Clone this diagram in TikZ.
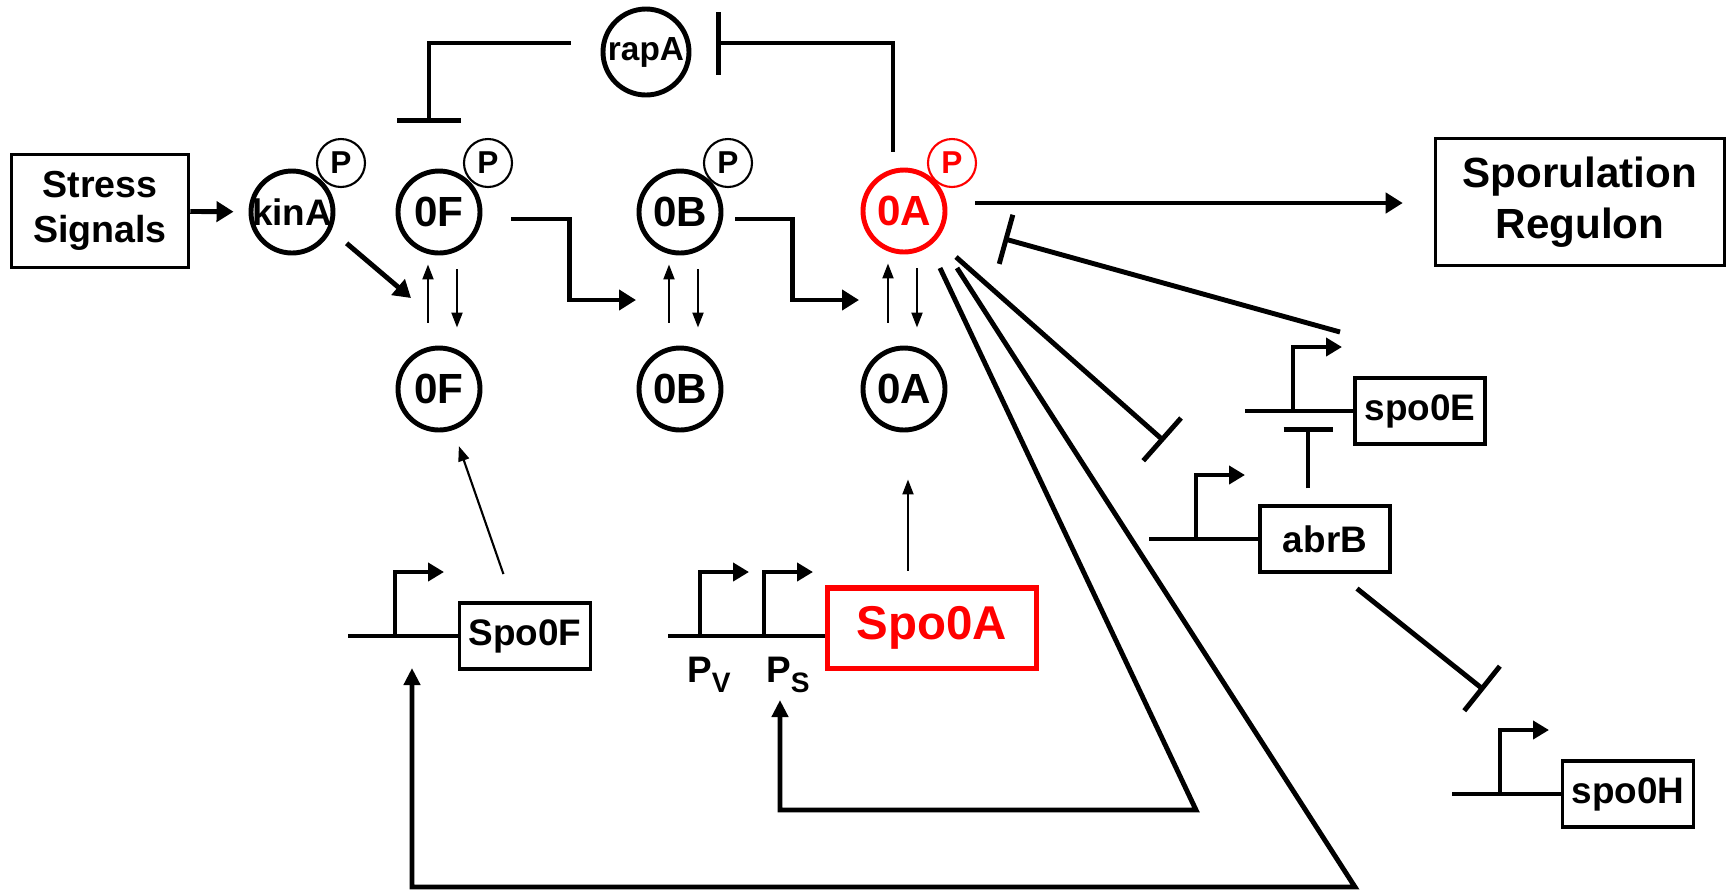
\documentclass[tikz,border=0pt]{standalone}
\usepackage{fontspec}
\setmainfont{Liberation Sans}
\usepackage{xcolor}
\usepackage{tikz}
\usetikzlibrary{arrows.meta,positioning,calc}
\definecolor{spored}{HTML}{FF0000}
\newcommand{\prom}[1]{\draw[prm] #1 |- ++(49,-64);}
\newcommand{\fsz}[1]{\fontsize{#1}{1.2\dimexpr#1pt\relax}\selectfont\bfseries}
\tikzset{
  act/.style={-{Triangle[length=1.7mm,width=2mm]}, line width=1.4pt},
  thn/.style={-{Triangle[length=1.5mm,width=1.1mm]}, line width=0.6pt},
  fb/.style={-{Triangle[length=1.7mm,width=1.6mm]}, line width=1.4pt},
  inh/.style={-{Bar[width=#1]}, line width=1.4pt},
  inh/.default=5.7mm,
  gcir/.style={circle, draw, line width=1.4pt, minimum size=8.2mm, inner sep=0pt, font=\fsz{12}},
  pcir/.style={circle, draw, line width=0.6pt, minimum size=4.8mm, inner sep=0pt, font=\fsz{9}},
  gbox/.style={draw, line width=0.9pt, minimum width=13mm, minimum height=6.6mm, inner sep=0pt, font=\fsz{10.5}},
  sbox/.style={draw, line width=1pt, align=center, inner sep=0pt},
  gl/.style={line width=1.4pt},
  prm/.style={-{Triangle[length=1.6mm,width=1.8mm]}, line width=1.4pt},
}
\begin{document}
\begin{tikzpicture}[x=0.1mm, y=-0.1mm]
  \useasboundingbox (0,0) rectangle (1726,893);
  % signal and output boxes
  \node[sbox, minimum width=17.7mm, minimum height=11.3mm, font=\fsz{10.7}] (stress) at (100,211) {Stress\\Signals};
  \node[sbox, minimum width=28.9mm, minimum height=12.7mm, font=\fsz{12}] (spor) at (1580,202) {Sporulation\\Regulon};
  % phosphorelay
  \node[gcir, font=\fsz{10.5}] (kinA) at (292,212) {\makebox[0pt]{kinA}};
  \node[pcir] (kinAs) at (341,163) {P};
  \node[gcir] (pF) at (439,212) {0F};
  \node[pcir] (pFs) at (488,163) {P};
  \node[gcir] (pB) at (680,212) {0B};
  \node[pcir] (pBs) at (728,163) {P};
  \node[gcir, spored] (pA) at (904,211) {0A};
  \node[pcir, spored] (pAs) at (952,163) {P};
  \node[gcir, minimum size=8.6mm, font=\fsz{9.5}] (rapA) at (646,52) {rapA};
  \node[gcir] (uF) at (439,389) {0F};
  \node[gcir] (uB) at (680,389) {0B};
  \node[gcir] (uA) at (904,389) {0A};
  % genes
  \node[gbox, minimum width=13.1mm] (spoF) at (525,636) {Spo0F};
  \node[gbox, spored, line width=1.7pt, minimum width=20.9mm, minimum height=8.1mm, font=\fsz{13.5}] (spoA) at (932,628) {Spo0A};
  \node[gbox] (spoE) at (1420,411) {spo0E};
  \node[gbox] (abrB) at (1325,539) {abrB};
  \node[gbox, minimum width=13.1mm] (spoH) at (1628,794) {spo0H};
  \node[anchor=base, font=\fsz{10.5}] (pv) at (709,682) {P\raisebox{-1mm}{\fsz{8}V}};
  \node[anchor=base, font=\fsz{10.5}] (ps) at (788,682) {P\raisebox{-1mm}{\fsz{8}S}};
  % free ends
  \coordinate (gF) at (348,636);
  \coordinate (gA) at (668,636);
  \coordinate (gE) at (1245,411);
  \coordinate (gB) at (1149,539);
  \coordinate (gH) at (1452,794);
  \coordinate (kF) at (411,298);
  \coordinate (tB) at (636,300);
  \coordinate (tA) at (859,300);
  \coordinate (rF) at (429,123);
  \coordinate (rA) at (716,43);
  \coordinate (eE) at (1340,332);
  \coordinate (iB) at (1164,441);
  \coordinate (iE) at (1308,427);
  \coordinate (iH) at (1484,690);
  \coordinate (fF) at (1355,887);
  \coordinate (tF) at (412,668);
  \coordinate (fS) at (1196,810);
  \coordinate (tS) at (780,700);
  % gene lines and promoters
  \draw[gl] (gF) -- (spoF.west);
  \prom{($(gF)+(47,0)$)}
  \draw[gl] (gA) -- (gA -| spoA.west);
  \prom{($(gA)+(32,0)$)}
  \prom{($(gA)+(96,0)$)}
  \draw[gl] (gE) -- (spoE.west);
  \prom{($(gE)+(48,0)$)}
  \draw[gl] (gB) -- (abrB.west);
  \prom{($(gB)+(47,0)$)}
  \draw[gl] (gH) -- (spoH.west);
  \prom{($(gH)+(48,0)$)}
  % relay
  \draw[act, shorten >=1.5mm] (stress) -- (kinA);
  \draw[act, shorten <=2mm] (kinA.-25) -- (kF);
  \foreach \n/\d in {F/0,B/0,A/-5}{
    \draw[thn] ($(u\n.north)+({-11+\d},-23)$) -- ($(p\n.south)+({-11+\d},9)$);
    \draw[thn] ($(p\n.south)+({18+\d},14)$) -- ($(u\n.north)+({18+\d},-18)$);
  }
  \draw[act] ($(pF.east)+(29,7)$) -- ++(58,0) |- (tB);
  \draw[act] ($(pB.east)+(12,7)$) -- ++(57,0) |- (tA);
  \draw[act] ($(pA.east)+(28,-8)$) -- ($(spor.west)+(-31,1)$);
  \draw[inh=6.4mm] ($(rapA.west)+(-30,-9)$) -| (rF);
  \draw[inh=6.3mm] ($(pA.north)+(-11,-16)$) |- (rA);
  % expression
  \draw[thn, shorten <=2.9mm, shorten >=1.7mm] (spoF) -- (uF);
  \draw[thn] ($(spoA.north -| uA)+(4,-14)$) -- ($(uA.south)+(4,47)$);
  % regulation by 0A~P
  \draw[inh=5.1mm, shorten >=6mm] (eE) -- (pA);
  \draw[inh=5.7mm, shorten <=2.6mm] (pA) -- (iB);
  \draw[inh=4.9mm] ($(abrB.north)+(-17,-16)$) -- (iE);
  \draw[inh=5.7mm] ($(abrB.south)+(32,15)$) -- (iH);
  \draw[fb] ($(pA.center)+(53,57)$) -- (fF) -| (tF);
  \draw[fb] ($(pA.center)+(36,57)$) -- (fS) -| (tS);
\end{tikzpicture}
\end{document}
